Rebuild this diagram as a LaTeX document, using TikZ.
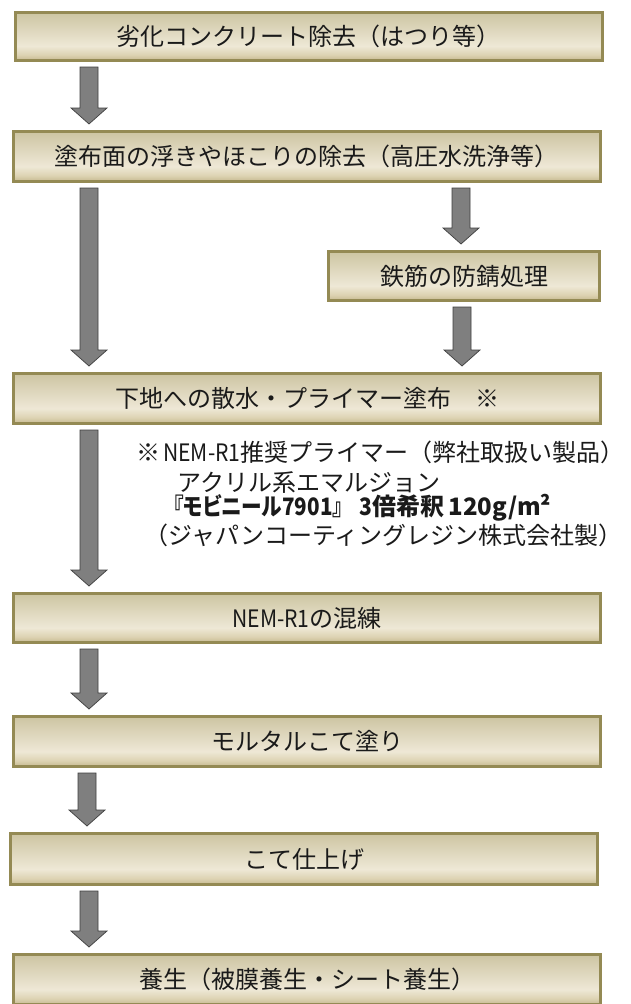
\documentclass[tikz,border=0pt]{standalone}
\usepackage{fontspec}
\usepackage{graphicx}
\setmainfont{Noto Sans CJK JP}
\usetikzlibrary{calc}
\definecolor{boxborder}{HTML}{948A54}
\definecolor{shA}{HTML}{C6B990}
\definecolor{shD}{HTML}{DDD3B3}
\definecolor{shB}{HTML}{EEE8D6}
\definecolor{shC}{HTML}{CDC5A2}
\definecolor{arrfill}{HTML}{7F7F7F}
\definecolor{arrline}{HTML}{3F3F3F}
\definecolor{txt}{HTML}{1A1A1A}
\pgfdeclareverticalshading{boxshade}{100bp}{color(0bp)=(shA); color(25bp)=(shA); color(31bp)=(shD); color(40bp)=(shB); color(75bp)=(shC); color(100bp)=(shC)}
\newcommand\flowarrow[3]{%
  \path[bigarrow] let \p1=(#2.south), \p2=(#3.north) in
    (#1pt-9pt,\y1-5pt) -- (#1pt+9pt,\y1-5pt) -- (#1pt+9pt,\y2+22pt)
    -- (#1pt+18pt,\y2+22pt) -- (#1pt,\y2+6pt) -- (#1pt-18pt,\y2+22pt)
    -- (#1pt-9pt,\y2+22pt) -- cycle;}
\newcommand\narrow[1]{\scalebox{0.88}[1]{#1}}
\tikzset{
  stepbox/.style={draw=boxborder, line width=3pt, shading=boxshade,
    minimum width=587pt, minimum height=50pt, inner sep=0pt,
    text=txt, font=\fontsize{24}{28}\selectfont},
  bigarrow/.style={fill=arrfill, draw=arrline, line width=0.7pt, line join=miter},
  notetext/.style={anchor=west, inner sep=0pt, text=txt, font=\fontsize{24}{28}\selectfont},
}
\begin{document}
\begin{tikzpicture}[x=1pt,y=1pt]
\clip (0,0) rectangle (630,-1004);
\fill[white] (0,0) rectangle (630,-1004);
\node[stepbox, minimum height=48pt] (b1) at (308.5,-36.5) {劣化コンクリート除去（はつり等）};
\node[stepbox] (b2) at (306.5,-156.5) {塗布面の浮きやほこりの除去（高圧水洗浄等）};
\node[stepbox, minimum width=271pt, minimum height=49pt] (b3) at (464,-276) {鉄筋の防錆処理};
\node[stepbox] (b4) at (307,-398.5) {下地への散水・プライマー塗布　※};
\node[stepbox, minimum height=49pt] (b5) at (307,-618) {\narrow{NEM-R1}の混練};
\node[stepbox] (b6) at (307,-741.5) {モルタルこて塗り};
\node[stepbox, minimum height=51pt] (b7) at (304,-859) {こて仕上げ};
\node[stepbox] (b8) at (307,-979.5) {養生（被膜養生・シート養生）};
\node[notetext] (n1) at (136,-452) {※\hspace{3pt}\narrow{NEM-R1}推奨プライマー（弊社取扱い製品）};
\node[notetext] (n2) at (177,-483) {アクリル系エマルジョン};
\node[notetext, font=\fontsize{24}{28}\selectfont\bfseries] (n3) at (173,-508) {\scalebox{0.86}[1]{\addfontfeature{RawFeature=+palt}『モビニール7901』}\hspace{17pt}\narrow{3}倍希釈\hspace{4pt}120g/m²};
\node[notetext] (n4) at (144,-535) {（ジャパンコーティングレジン株式会社製）};
\flowarrow{89}{b1}{b2}
\flowarrow{89}{b2}{b4}
\flowarrow{461}{b2}{b3}
\flowarrow{462}{b3}{b4}
\flowarrow{89}{b4}{b5}
\flowarrow{89}{b5}{b6}
\flowarrow{87}{b6}{b7}
\flowarrow{89}{b7}{b8}
\end{tikzpicture}
\end{document}
